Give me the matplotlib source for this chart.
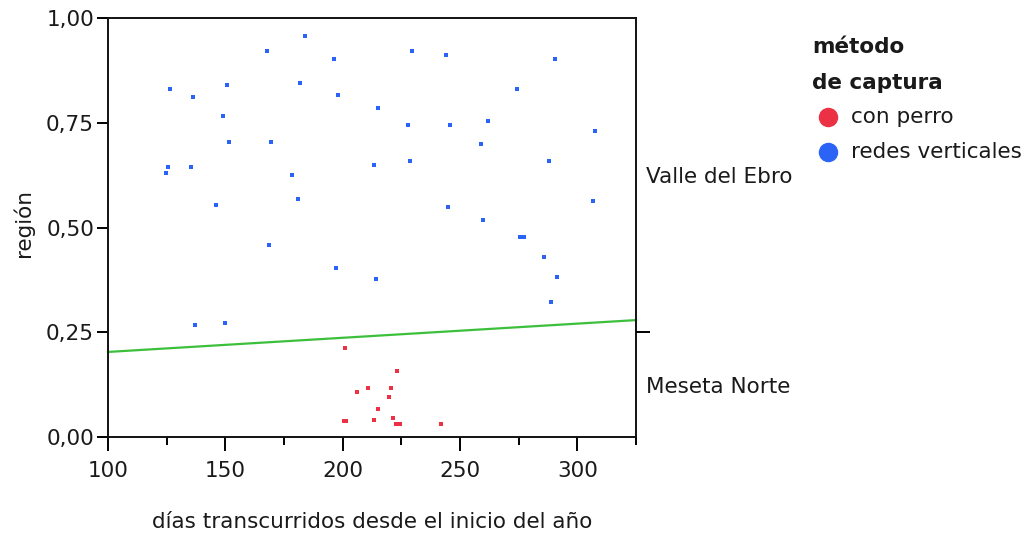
import matplotlib.pyplot as plt
from matplotlib.lines import Line2D
from matplotlib.ticker import FixedLocator, FuncFormatter

plt.rcParams['font.family'] = ['DejaVu Sans']

# redes verticales (Valle del Ebro)
blue_x = [183.8, 167.8, 196.5, 126.4, 136.4, 150.7, 182.0, 198.2, 215.1, 148.9,
          151.6, 169.5, 125.6, 124.7, 135.5, 178.4, 213.4, 181.1, 146.2, 229.5,
          243.9, 290.5, 274.5, 227.7, 245.6, 261.8, 307.5, 259.1, 228.6, 287.8,
          306.7, 244.8, 260.0, 168.6, 197.3, 214.2, 137.2, 149.7, 275.7, 277.1,
          286.0, 291.3, 288.6]
blue_y = [0.956, 0.921, 0.901, 0.831, 0.811, 0.841, 0.846, 0.816, 0.786, 0.765,
          0.705, 0.705, 0.644, 0.629, 0.644, 0.625, 0.650, 0.569, 0.554, 0.921,
          0.911, 0.901, 0.831, 0.745, 0.745, 0.755, 0.730, 0.700, 0.659, 0.659,
          0.564, 0.549, 0.519, 0.458, 0.403, 0.378, 0.267, 0.272, 0.478, 0.478,
          0.429, 0.383, 0.323]

# con perro (Meseta Norte)
red_x = [200.9, 223.3, 210.7, 220.5, 206.3, 219.6, 215.2, 213.4, 221.5, 200.6,
         201.6, 222.6, 224.3, 242.1]
red_y = [0.212, 0.157, 0.117, 0.117, 0.107, 0.096, 0.066, 0.041, 0.046, 0.037,
         0.037, 0.032, 0.032, 0.032]

# linea de separacion
line_x = [100, 325]
line_y = [0.203, 0.279]

y_ticks = [0.0, 0.25, 0.5, 0.75, 1.0]
x_ticks = [100, 150, 200, 250, 300]
regions = ["Meseta Norte", "Valle del Ebro"]
region_pos = [0.125, 0.625]

RED = "#ec3145"
BLUE = "#2b63f7"
GREEN = "#3cc03c"
TXT = "#1a1a1a"
FS = 15.5

fig = plt.figure(figsize=(10.34, 5.41), dpi=100)
ax = fig.add_axes([108 / 1034, 1 - 437 / 541, 528 / 1034, 419 / 541])

ax.plot(line_x, line_y, color=GREEN, lw=1.6, clip_on=False, zorder=2)
ax.scatter(red_x, red_y, marker="s", s=9, color=RED, lw=0, zorder=3)
ax.scatter(blue_x, blue_y, marker="s", s=9, color=BLUE, lw=0, zorder=3)

ax.set_xlim(100, 325)
ax.set_ylim(0, 1)
for sp in ax.spines.values():
    sp.set_linewidth(1.4)
    sp.set_color("#111111")

ax.xaxis.set_major_locator(FixedLocator(x_ticks))
ax.xaxis.set_minor_locator(FixedLocator([125, 175, 225, 275, 325]))
ax.yaxis.set_major_locator(FixedLocator(y_ticks))
ax.yaxis.set_major_formatter(FuncFormatter(lambda v, p: f"{v:.2f}".replace(".", ",")))
ax.tick_params(axis="x", which="major", length=10, width=1.4, pad=7,
               labelsize=FS, labelcolor=TXT)
ax.tick_params(axis="x", which="minor", length=6, width=1.4)
ax.tick_params(axis="y", which="major", length=8, width=1.4, pad=2,
               labelsize=FS, labelcolor=TXT)

ax.set_xlabel("días transcurridos desde el inicio del año", fontsize=FS,
              color=TXT, va="center")
ax.xaxis.set_label_coords(0.5, -0.203)
ax.set_ylabel("región", fontsize=FS, color=TXT, va="center")
ax.yaxis.set_label_coords(-0.161, 0.51)

# eje derecho con las regiones
ax2 = ax.twinx()
ax2.set_ylim(0, 1)
ax2.yaxis.set_major_locator(FixedLocator([0.25]))
ax2.yaxis.set_major_formatter(FuncFormatter(lambda v, p: ""))
ax2.yaxis.set_minor_locator(FixedLocator(region_pos))
ax2.set_yticklabels(regions, minor=True)
ax2.tick_params(axis="y", which="major", length=10, width=1.4)
ax2.tick_params(axis="y", which="minor", length=0, pad=7, labelsize=FS,
                labelcolor=TXT)
for sp in ax2.spines.values():
    sp.set_visible(False)

# leyenda
fig.text(812 / 1034, 1 - 47 / 541, "método", fontsize=FS, fontweight="bold",
         color=TXT, va="center")
fig.text(812 / 1034, 1 - 83 / 541, "de captura", fontsize=FS, fontweight="bold",
         color=TXT, va="center")
for yy, col, lab in [(117, RED, "con perro"), (152, BLUE, "redes verticales")]:
    fig.add_artist(Line2D([828 / 1034], [1 - yy / 541], marker="o", ms=13,
                          color=col, lw=0, transform=fig.transFigure))
    fig.text(851 / 1034, 1 - yy / 541, lab, fontsize=FS, color=TXT, va="center")

fig.savefig("out.png", dpi=100)
